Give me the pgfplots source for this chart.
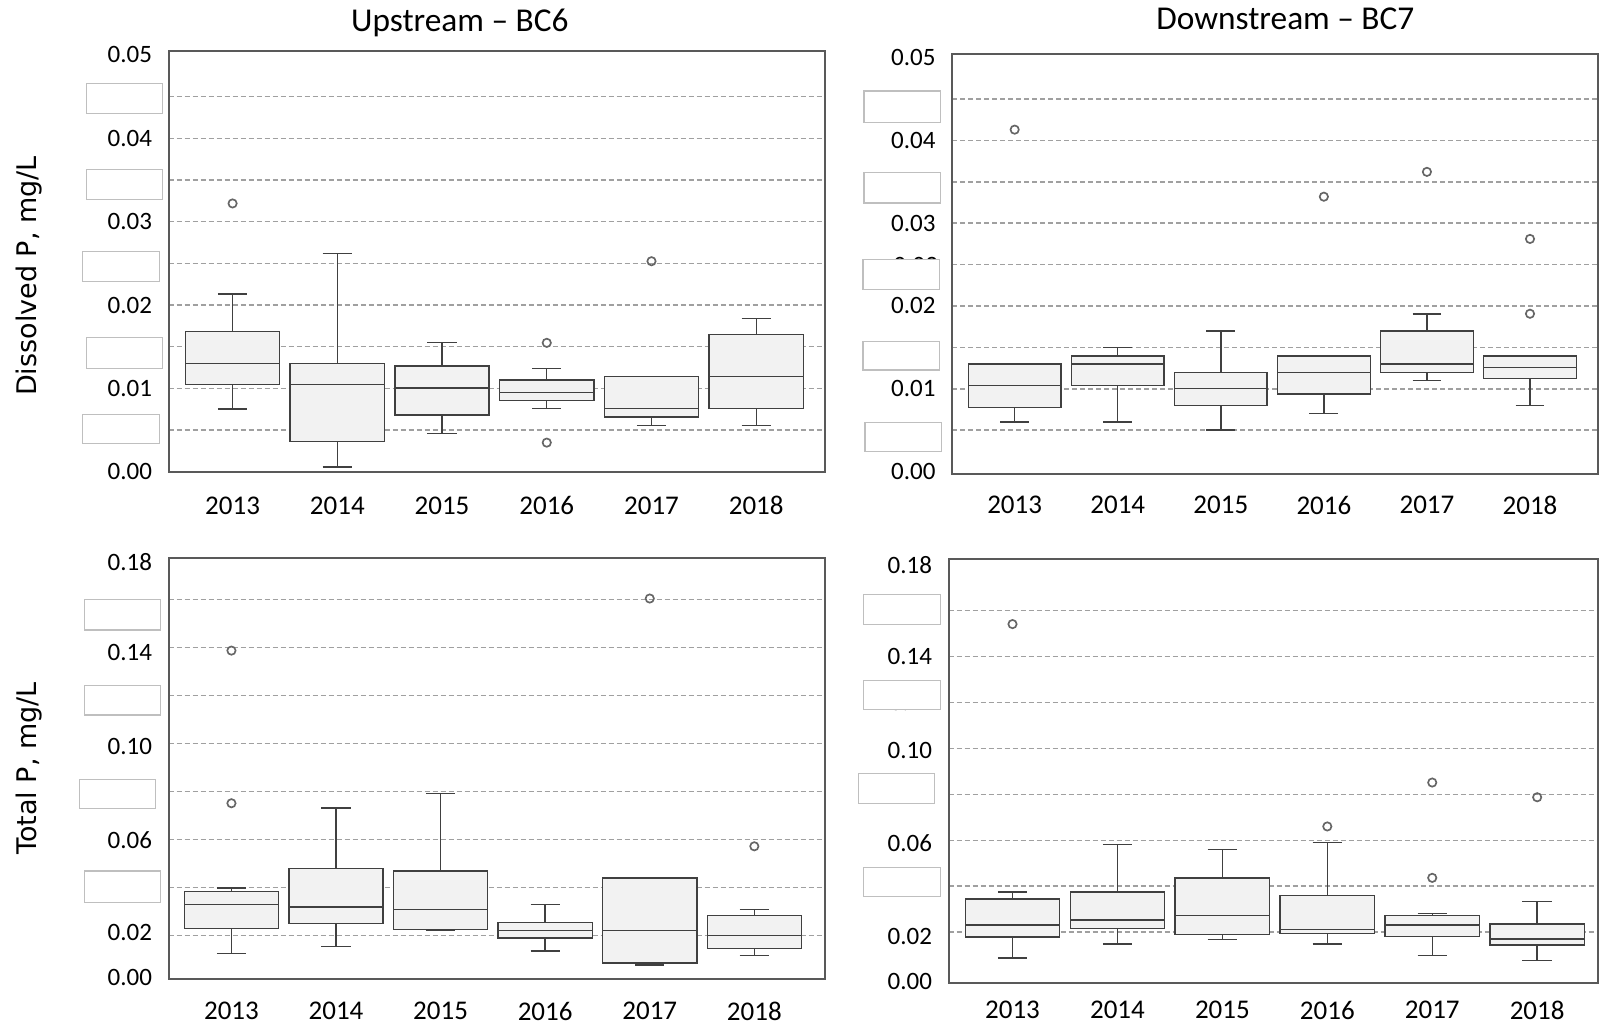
\documentclass[border=0pt]{standalone}
\usepackage{pgfplots}
\pgfplotsset{compat=1.18}
\usepgfplotslibrary{statistics}
\usepackage{fontspec}
\setmainfont{Carlito}
\newfontfamily\labfont{DejaVu Sans}
\definecolor{boxfill}{HTML}{F2F2F2}
\definecolor{boxline}{HTML}{404040}
\definecolor{gridc}{HTML}{A0A0A0}
\definecolor{axc}{HTML}{595959}

\pgfplotsset{
  panel/.style={
    scale only axis, anchor=south west,
    axis line style={axc, line width=0.5pt},
    scaled y ticks=false,
    xtick={0,1,2,3,4,5},
    xticklabels={2013,2014,2015,2016,2017,2018},
    major tick length=0pt, minor tick length=0pt,
    xticklabel style={font=\fontsize{8.1}{9}\selectfont},
    ymajorgrids=true, yticklabels={},
    extra y tick style={grid=none, yticklabel style={font=\fontsize{7.5}{9}\selectfont, xshift=-1.5pt}},
    major grid style={gridc, line width=0.45pt, dash pattern=on 1.5pt off 0.9pt},
  },
  bx/.style={draw=boxline, fill=boxfill, line width=0.42pt, mark=o, mark size=1.25pt,
    mark options={draw=black!60, line width=0.5pt, solid, fill=none},
    boxplot/draw direction=y, boxplot/box extend=0.9, boxplot/whisker extend=0.28},
}

\begin{document}
\begin{tikzpicture}
\path[use as bounding box] (0,0) rectangle (480.6pt,-308.4pt);

% ---------- Top left: Dissolved P, BC6
\begin{axis}[panel, at={(50.61pt,-141.51pt)}, width=196.89pt, height=126.3pt,
  xmin=-0.61, xmax=5.657, ymin=0, ymax=0.0505,
  xticklabel style={yshift=-3.9pt},
  ytick={0.005,0.01,0.015,0.02,0.025,0.03,0.035,0.04,0.045},
  extra y ticks={0,0.01,0.02,0.03,0.04,0.05},
  extra y tick labels={0.00,0.01,0.02,0.03,0.04,0.05}]
\addplot[bx, boxplot prepared={draw position=0, lower whisker=0.00754, lower quartile=0.01047, median=0.01296, upper quartile=0.01685, upper whisker=0.02132}] coordinates {(0,0.03218)};
\addplot[bx, boxplot prepared={draw position=1, lower whisker=0.00056, lower quartile=0.00361, median=0.01047, upper quartile=0.01296, upper whisker=0.0262}] coordinates {};
\addplot[bx, boxplot prepared={draw position=2, lower whisker=0.0046, lower quartile=0.00678, median=0.01003, upper quartile=0.01269, upper whisker=0.0155}] coordinates {};
\addplot[bx, boxplot prepared={draw position=3, lower whisker=0.00758, lower quartile=0.00853, median=0.00952, upper quartile=0.01102, upper whisker=0.01241}] coordinates {(3,0.01546) (3,0.00349)};
\addplot[bx, boxplot prepared={draw position=4, lower whisker=0.00555, lower quartile=0.00655, median=0.00758, upper quartile=0.01142, upper whisker=0.01142}] coordinates {(4,0.02525)};
\addplot[bx, boxplot prepared={draw position=5, lower whisker=0.00555, lower quartile=0.00758, median=0.01142, upper quartile=0.01649, upper whisker=0.01839}] coordinates {};
\end{axis}

% ---------- Top right: Dissolved P, BC7
\begin{axis}[panel, at={(285.66pt,-142.2pt)}, width=193.74pt, height=125.91pt,
  xmin=-0.606, xmax=5.66, ymin=-0.0003, ymax=0.0504,
  xticklabel style={yshift=-3.0pt},
  ytick={0.005,0.01,0.015,0.02,0.025,0.03,0.035,0.04,0.045},
  extra y ticks={0,0.01,0.02,0.03,0.04,0.05},
  extra y tick labels={0.00,0.01,0.02,0.03,0.04,0.05}]
\addplot[bx, boxplot prepared={draw position=0, lower whisker=0.00598, lower quartile=0.00772, median=0.01041, upper quartile=0.01297, upper whisker=0.01297}] coordinates {(0,0.0413)};
\addplot[bx, boxplot prepared={draw position=1, lower whisker=0.00598, lower quartile=0.01041, median=0.01297, upper quartile=0.01398, upper whisker=0.015}] coordinates {};
\addplot[bx, boxplot prepared={draw position=2, lower whisker=0.005, lower quartile=0.00797, median=0.01, upper quartile=0.01199, upper whisker=0.01699}] coordinates {};
\addplot[bx, boxplot prepared={draw position=3, lower whisker=0.00699, lower quartile=0.00939, median=0.01199, upper quartile=0.01398, upper whisker=0.01398}] coordinates {(3,0.0332)};
\addplot[bx, boxplot prepared={draw position=4, lower whisker=0.01102, lower quartile=0.01199, median=0.01301, upper quartile=0.01699, upper whisker=0.01902}] coordinates {(4,0.0362)};
\addplot[bx, boxplot prepared={draw position=5, lower whisker=0.00797, lower quartile=0.01126, median=0.01256, upper quartile=0.01398, upper whisker=0.01398}] coordinates {(5,0.01906) (5,0.0281)};
\end{axis}

% ---------- Bottom left: Total P, BC6
\begin{axis}[panel, at={(50.61pt,-293.7pt)}, width=196.89pt, height=126.39pt,
  xmin=-0.60, xmax=5.676, ymin=0.00196, ymax=0.1775,
  xticklabel style={yshift=-3.3pt},
  ytick={0.02,0.04,0.06,0.08,0.10,0.12,0.14,0.16},
  extra y ticks={0.0024,0.0215,0.0599,0.0990,0.1382,0.1757},
  extra y tick labels={0.00,0.02,0.06,0.10,0.14,0.18}]
\addplot[bx, boxplot prepared={draw position=0, lower whisker=0.01266, lower quartile=0.0231, median=0.0330, upper quartile=0.03835, upper whisker=0.0399}] coordinates {(0,0.0752) (0,0.1388)};
\addplot[bx, boxplot prepared={draw position=1, lower whisker=0.01562, lower quartile=0.0251, median=0.0320, upper quartile=0.04795, upper whisker=0.0732}] coordinates {};
\addplot[bx, boxplot prepared={draw position=2, lower whisker=0.0221, lower quartile=0.02254, median=0.0310, upper quartile=0.04696, upper whisker=0.0793}] coordinates {};
\addplot[bx, boxplot prepared={draw position=3, lower whisker=0.01365, lower quartile=0.0190, median=0.0221, upper quartile=0.0255, upper whisker=0.0330}] coordinates {};
\addplot[bx, boxplot prepared={draw position=4, lower whisker=0.00786, lower quartile=0.00857, median=0.0221, upper quartile=0.0440, upper whisker=0.0440}] coordinates {(4,0.1605)};
\addplot[bx, boxplot prepared={draw position=5, lower whisker=0.01167, lower quartile=0.01464, median=0.0201, upper quartile=0.02847, upper whisker=0.0310}] coordinates {(5,0.05726)};
\end{axis}

% ---------- Bottom right: Total P, BC7
\begin{axis}[panel, at={(284.61pt,-294.9pt)}, width=194.79pt, height=127.2pt,
  xmin=-0.608, xmax=5.58, ymin=-0.00209, ymax=0.1823,
  xticklabel style={yshift=-1.8pt},
  ytick={0.02,0.04,0.06,0.08,0.10,0.12,0.14,0.16},
  extra y ticks={-0.0015,0.0180,0.0587,0.0992,0.1398,0.1797},
  extra y tick labels={0.00,0.02,0.06,0.10,0.14,0.18}]
\addplot[bx, boxplot prepared={draw position=0, lower whisker=0.00876, lower quartile=0.01796, median=0.02307, upper quartile=0.03445, upper whisker=0.03752}] coordinates {(0,0.154)};
\addplot[bx, boxplot prepared={draw position=1, lower whisker=0.01489, lower quartile=0.0216, median=0.02526, upper quartile=0.03752, upper whisker=0.0581}] coordinates {};
\addplot[bx, boxplot prepared={draw position=2, lower whisker=0.01693, lower quartile=0.01898, median=0.0273, upper quartile=0.04365, upper whisker=0.0561}] coordinates {};
\addplot[bx, boxplot prepared={draw position=3, lower whisker=0.01489, lower quartile=0.01956, median=0.02117, upper quartile=0.03591, upper whisker=0.05913}] coordinates {(3,0.066)};
\addplot[bx, boxplot prepared={draw position=4, lower whisker=0.00978, lower quartile=0.0181, median=0.02307, upper quartile=0.02715, upper whisker=0.02818}] coordinates {(4,0.04365) (4,0.0851)};
\addplot[bx, boxplot prepared={draw position=5, lower whisker=0.00774, lower quartile=0.01445, median=0.01708, upper quartile=0.02365, upper whisker=0.03329}] coordinates {(5,0.0787)};
\end{axis}

% ---------- titles, axis titles and masking boxes (pixel grid of the reference)
\begin{scope}[x=0.3pt,y=-0.3pt]
\node[font=\fontsize{10}{12}\selectfont] at (459.8,23) {Upstream – BC6};
\node[font=\fontsize{10}{12}\selectfont] at (1285.3,18.4) {Downstream – BC7};
\node[rotate=90, font=\labfont\fontsize{8.1}{10}\selectfont] at (28.6,275.9) {Dissolved P, mg/L};
\node[rotate=90, font=\labfont\fontsize{8.1}{10}\selectfont] at (28.6,768.3) {Total P, mg/L};
% partially hidden labels
\node[anchor=east, inner sep=0pt, font=\fontsize{7.5}{9}\selectfont] at (938.7,265) {0.02};
\node[anchor=east, inner sep=0pt, font=\fontsize{7.5}{9}\selectfont] at (934.7,702) {0.12};
\begin{scope}[draw=black!25, fill=white, line width=0.35pt]
\filldraw (86.3,83.3) rectangle (162.7,113.3);
\filldraw (86.3,169.3) rectangle (162.7,199.3);
\filldraw (82.6,251.7) rectangle (159.5,281.7);
\filldraw (86.3,337.3) rectangle (162.7,368.3);
\filldraw (82.6,414.3) rectangle (159.5,443.3);
\filldraw (863.9,91) rectangle (940.7,122.3);
\filldraw (863.9,172.3) rectangle (940.7,203);
\filldraw (862.9,259.3) rectangle (939.7,289.3);
\filldraw (862.9,341.7) rectangle (939.7,370);
\filldraw (864.9,422.3) rectangle (941.7,451.3);
\filldraw (84.7,599.3) rectangle (160.6,630);
\filldraw (84.7,685.7) rectangle (160.6,715);
\filldraw (79.5,779.3) rectangle (155.3,808.3);
\filldraw (84.7,871) rectangle (160.6,902.3);
\filldraw (863.4,594.7) rectangle (940.7,624.3);
\filldraw (863.4,680.7) rectangle (940.7,709.3);
\filldraw (858.4,773.3) rectangle (934.7,803.3);
\filldraw (863.4,867.3) rectangle (940.7,896.7);
\end{scope}
\end{scope}
\end{tikzpicture}
\end{document}
